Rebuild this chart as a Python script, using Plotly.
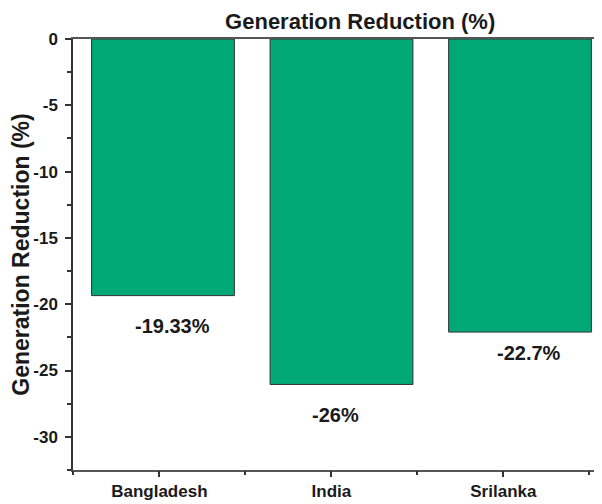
import plotly.graph_objects as go

countries = ["Bangladesh", "India", "Srilanka"]
reduction = [-19.35, -26.05, -22.1]
labels = ["-19.33%", "-26%", "-22.7%"]
y_ticks = [0, -5, -10, -15, -20, -25, -30]
y_ticklabels = ["0", "-5", "-10", "-15", "-20", "-25", "-30"]

FONT = "Liberation Sans, Arial, sans-serif"
INK = "#1a1a1a"

# hand placed value labels in the original (pixel nudges)
label_dx = [10, -6, 9]
label_dy = [-30, -31, -21]

fig = go.Figure()
fig.add_trace(
    go.Bar(
        x=list(range(len(countries))),
        y=reduction,
        width=0.8,
        marker=dict(color="#03A877", line=dict(color="#333333", width=1)),
        hoverinfo="x+y",
    )
)
# invisible trace so the category tick axis gets drawn
fig.add_trace(
    go.Scatter(
        x=list(range(len(countries))), y=reduction,
        xaxis="x2", mode="none", hoverinfo="skip", showlegend=False,
    )
)

for i, (val, lab) in enumerate(zip(reduction, labels)):
    fig.add_annotation(
        x=i, y=val, text=lab, showarrow=False,
        xanchor="center", yanchor="middle",
        xshift=label_dx[i], yshift=label_dy[i],
        font=dict(family=FONT, size=20, color=INK, weight="bold"),
    )

fig.update_layout(
    width=602,
    height=504,
    margin=dict(l=65, r=0, t=31, b=42),
    plot_bgcolor="white",
    paper_bgcolor="white",
    showlegend=False,
    title=dict(
        text="Generation Reduction (%)",
        x=0.585, xanchor="center", y=0.974, yanchor="middle",
        automargin=False,
        font=dict(family=FONT, size=22, color=INK, weight="bold"),
    ),
    font=dict(family=FONT, color=INK),
    xaxis=dict(
        range=[-0.504, 2.504],
        showticklabels=False, ticks="",
        showline=True, linecolor="#555", linewidth=1.5, mirror=True,
        showgrid=False, zeroline=False,
        automargin=False,
    ),
    # axis used only for the category ticks and labels
    xaxis2=dict(
        overlaying="x", side="bottom", anchor="y",
        range=[-0.502, 2.620],
        tickvals=list(range(len(countries))),
        ticktext=countries,
        ticks="outside", ticklen=6, tickwidth=1.5, tickcolor="#333",
        minor=dict(tick0=0.5, dtick=1, ticks="outside", ticklen=4, tickcolor="#333"),
        showline=False, showgrid=False, zeroline=False,
        automargin=False,
        tickfont=dict(family=FONT, size=17, color=INK, weight="bold"),
    ),
)

fig.update_yaxes(
    range=[-32.5, 0],
    tickvals=y_ticks, ticktext=y_ticklabels,
    ticks="outside", ticklen=6, tickwidth=1.5, tickcolor="#333",
    ticklabelstandoff=4,
    minor=dict(dtick=2.5, tick0=0, ticks="outside", ticklen=4, tickcolor="#333"),
    showline=True, linecolor="#333", linewidth=1.5,
    showgrid=False, zeroline=False,
    automargin=False,
    tickfont=dict(family=FONT, size=17, color=INK, weight="bold"),
    title=dict(text="Generation Reduction (%)", standoff=15,
               font=dict(family=FONT, size=23, color=INK, weight="bold")),
)

fig.write_html("out.html")
